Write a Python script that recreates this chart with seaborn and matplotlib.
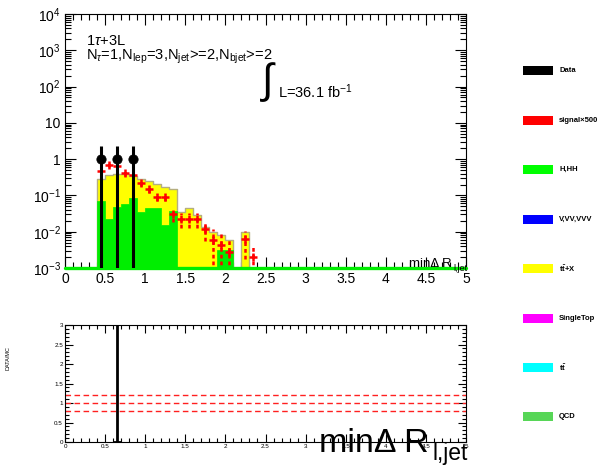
import matplotlib
matplotlib.use("Agg")
import matplotlib.pyplot as plt
from matplotlib.patches import Rectangle
from matplotlib.ticker import MultipleLocator, LogLocator, NullFormatter
import numpy as np
import pandas as pd
import seaborn as sns

# ── Data ─────────────────────────────────────────────────────────────────────

bin_edges = [round(0.4 + 0.1 * i, 2) for i in range(21)]
bin_centers = [round(0.45 + 0.1 * i, 3) for i in range(20)]

# top of the stack (H,HH + tt+X), per bin
stack_total = [0.29, 0.37, 0.38, 0.38, 0.34, 0.28, 0.25, 0.21, 0.17, 0.15,
               0.036, 0.044, 0.029, 0.0138, 0.010, 0.008, 0.006, 0.0, 0.0098, 0.0]
# H,HH, per bin
h_hh = [0.070, 0.022, 0.049, 0.057, 0.083, 0.036, 0.046, 0.046, 0.0153, 0.037,
        0.0, 0.0, 0.0, 0.0, 0.0, 0.0031, 0.0031, 0.0, 0.0, 0.0]
# signal x500
signal = [0.48, 0.69, 0.63, 0.41, 0.365, 0.224, 0.15, 0.091, 0.092, 0.031,
          0.023, 0.023, 0.023, 0.0116, 0.0059, 0.0043, 0.0028, np.nan, 0.0063, 0.002]
signal_err = [0.08, 0.10, 0.10, 0.07, 0.06, 0.04, 0.03, 0.02, 0.02, 0.012,
              0.010, 0.010, 0.010, 0.006, 0.0062, 0.0045, 0.003, np.nan, 0.0045, 0.0021]

data_x = [0.45, 0.65, 0.85]
data_y = [1.0, 1.0, 1.0]
data_err_up = [1.3, 1.3, 1.3]

ratio_x = [0.65]
ratio_y = [2.63]
ratio_err_lo = [2.63]
ratio_err_hi = [1.6]
ratio_lines = [0.8, 1.0, 1.2]

legend_labels = ["Data", "signal×500", "H,HH", "V,VV,VVV", r"t$\mathbf{\bar{t}}$+X",
                 "SingleTop", r"t$\mathbf{\bar{t}}$", "QCD"]
legend_colors = ["#000000", "#ff0000", "#00ff00", "#0000ff", "#ffff00",
                 "#ff00ff", "#00ffff", "#57d657"]

W, H = 606, 473


def px(x, y):
    return x / W, 1 - y / H


sns.set_theme(style="ticks")
plt.rcParams["font.family"] = ["Liberation Sans", "DejaVu Sans"]
plt.rcParams["mathtext.fontset"] = "custom"
plt.rcParams["mathtext.rm"] = "Liberation Sans"
plt.rcParams["mathtext.it"] = "Liberation Sans:italic"
plt.rcParams["mathtext.bf"] = "Liberation Sans:bold"
plt.rcParams["text.color"] = "black"

fig = plt.figure(figsize=(W / 100, H / 100), dpi=100)
fig.patch.set_facecolor("white")

x0, x1 = 65, 466
ax = fig.add_axes([x0 / W, 1 - 268 / H, (x1 - x0) / W, (268 - 14) / H])
axr = fig.add_axes([x0 / W, 1 - 442 / H, (x1 - x0) / W, (442 - 325) / H])

# ── Top panel ────────────────────────────────────────────────────────────────
df = pd.DataFrame({"x": bin_centers, "total": stack_total, "hhh": h_hh})
ax.set_yscale("log")
sns.histplot(data=df, x="x", weights="total", bins=bin_edges, element="step",
             fill=True, color="#ffff00", alpha=1, edgecolor="#b5ae80",
             linewidth=1.0, ax=ax, zorder=2)
sns.histplot(data=df, x="x", weights="hhh", bins=bin_edges, element="step",
             fill=True, color="#00ee00", alpha=1, edgecolor="#00ee00",
             linewidth=0.5, ax=ax, zorder=3)
ax.axhline(1e-3, color="#00ee00", lw=2.4, clip_on=False, zorder=4)

sig_df = pd.DataFrame({"x": bin_centers, "y": signal, "e": signal_err}).dropna()
eb = ax.errorbar(sig_df["x"], sig_df["y"], yerr=sig_df["e"], fmt="none",
                 ecolor="#ff0000", elinewidth=1.8, zorder=5)
eb[2][0].set_linestyle((0, (1.5, 1.2)))
sns.scatterplot(data=sig_df, x="x", y="y", marker="+", s=32, color="#ff0000",
                linewidth=1.8, ax=ax, zorder=6)

ax.vlines(data_x, 1e-4, np.array(data_y) + np.array(data_err_up),
          color="black", lw=2.2, zorder=7)
sns.scatterplot(x=data_x, y=data_y, color="black", s=45, edgecolor="black",
                ax=ax, zorder=8)

ax.set_xlim(0, 5)
ax.set_ylim(1e-3, 1e4)
ax.set_xlabel("")
ax.set_ylabel("")
ax.set_xticks(np.arange(0, 5.01, 0.5))
ax.set_xticklabels(["0", "0.5", "1", "1.5", "2", "2.5", "3", "3.5", "4", "4.5", "5"],
                   fontsize=10)
ax.xaxis.set_minor_locator(MultipleLocator(0.1))
ax.set_yticks([1e-3, 1e-2, 1e-1, 1, 10, 1e2, 1e3, 1e4])
ax.set_yticklabels([r"$10^{-3}$", r"$10^{-2}$", r"$10^{-1}$", "1", "10",
                    r"$10^{2}$", r"$10^{3}$", r"$10^{4}$"], fontsize=10)
ax.yaxis.set_minor_locator(LogLocator(base=10, subs=np.arange(2, 10), numticks=20))
ax.yaxis.set_minor_formatter(NullFormatter())
ax.tick_params(which="both", direction="in", top=True, right=True, width=0.8,
               colors="black", pad=3)
ax.tick_params(which="major", length=8)
ax.tick_params(which="minor", length=4)
for s in ax.spines.values():
    s.set_linewidth(0.8)
    s.set_color("black")

fig.text(*px(86, 45), r"1$\tau$+3L", fontsize=10.5, va="baseline")
fig.text(*px(86, 59.5), r"N$_{\tau}$=1,N$_{\rm lep}$=3,N$_{\rm jet}$>=2,N$_{\rm bjet}$>=2",
         fontsize=10.5, va="baseline")
fig.text(*px(260, 82), r"$\int$", fontsize=30, va="center")
fig.text(*px(278, 92), r"L=36.1 fb$^{-1}$", fontsize=10.5, va="center")
fig.text(*px(452, 267), "min\u0394 R", fontsize=9.5, ha="right", va="baseline")
fig.text(*px(453, 271), "l,jet", fontsize=6.5, ha="left", va="baseline")

# ── Ratio panel ──────────────────────────────────────────────────────────────
for v in ratio_lines:
    axr.axhline(v, color="#ff2020", lw=1.0, ls=(0, (4, 2.5)))
axr.errorbar(ratio_x, ratio_y, yerr=[ratio_err_lo, ratio_err_hi], fmt="none",
             ecolor="black", elinewidth=2.0, capsize=3, capthick=2.0)
axr.set_xlim(0, 5)
axr.set_ylim(0, 3)
axr.set_xticks(np.arange(0, 5.01, 0.5))
axr.set_xticklabels(["0", "0.5", "1", "1.5", "2", "2.5", "3", "3.5", "4", "4.5", "5"],
                    fontsize=4.5)
axr.set_yticks(np.arange(0, 3.01, 0.5))
axr.set_yticklabels(["0", "0.5", "1", "1.5", "2", "2.5", "3"], fontsize=4.5)
axr.xaxis.set_minor_locator(MultipleLocator(0.1))
axr.yaxis.set_minor_locator(MultipleLocator(0.1))
axr.tick_params(which="both", direction="in", top=True, right=True, width=0.8,
                colors="black", pad=1.5)
axr.tick_params(which="major", length=6)
axr.tick_params(which="minor", length=3)
for s in axr.spines.values():
    s.set_linewidth(0.8)
    s.set_color("black")

fig.text(*px(8, 358), "DATA/MC", fontsize=4, rotation=90, va="center", ha="center")
fig.text(*px(429, 452), "min\u0394 R", fontsize=24.5, ha="right", va="baseline")
fig.text(*px(433, 460), "l,jet", fontsize=16.5, ha="left", va="baseline")

# ── Legend ───────────────────────────────────────────────────────────────────
for i, (lab, col) in enumerate(zip(legend_labels, legend_colors)):
    yc = 71 + i * 49.4
    fx, fy = px(523, yc + 4.5)
    fig.patches.append(Rectangle((fx, fy), 30 / W, 9 / H, transform=fig.transFigure,
                                 facecolor=col, edgecolor="none"))
    fig.text(*px(559, yc), lab, fontsize=5.5, fontweight="bold", va="center")

fig.savefig("out.png", dpi=100)
